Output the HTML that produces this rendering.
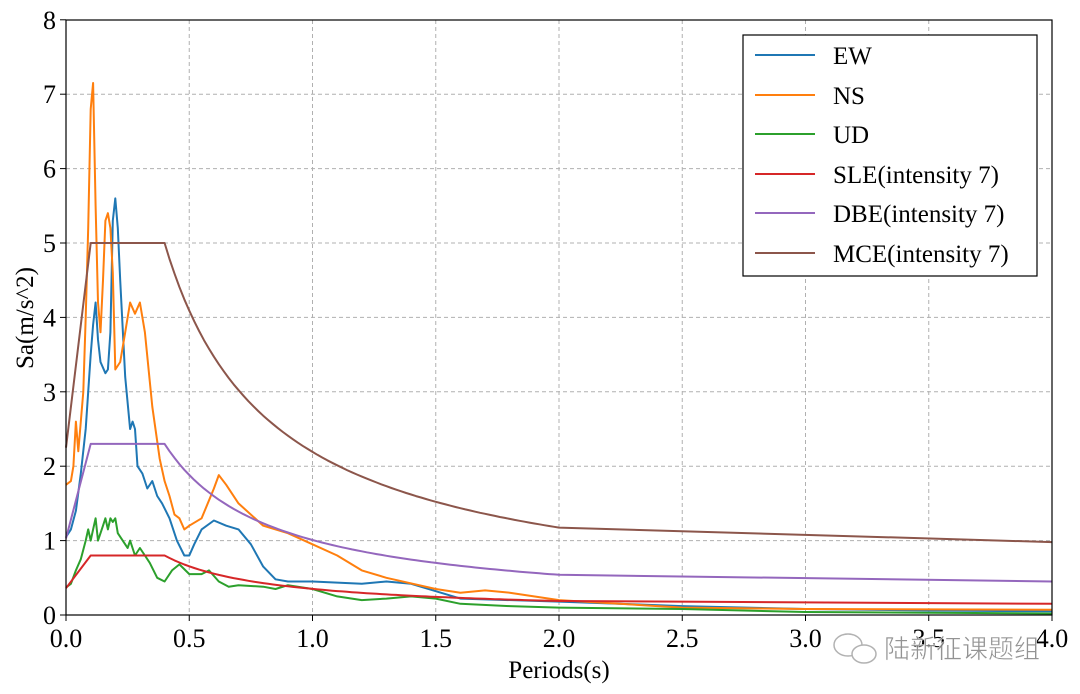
<!DOCTYPE html>
<html><head><meta charset="utf-8"><style>
html,body{margin:0;padding:0;background:#fff;}
svg{display:block;font-family:"Liberation Serif",serif;}
</style></head><body>
<svg id="s" width="1080" height="694" viewBox="0 0 1080 694" xmlns="http://www.w3.org/2000/svg">
<rect width="1080" height="694" fill="#fff"/>
<g id="grid" stroke="#b0b0b0" stroke-width="1" stroke-dasharray="4,3"></g>
<g id="series" fill="none" stroke-width="2" stroke-linejoin="round"></g>
<rect x="66" y="20" width="986" height="595" fill="none" stroke="#000" stroke-width="1.2"/>
<g id="ticks" font-size="26" fill="#000"></g>
<text x="559" y="678" font-size="25" text-anchor="middle">Periods(s)</text>
<text transform="translate(33,318) rotate(-90)" font-size="25" text-anchor="middle">Sa(m/s^2)</text>
<g>
<rect x="743" y="35" width="294" height="241" fill="#fff" stroke="#000" stroke-width="1.2"/>
<g stroke-width="2">
<line x1="755" y1="55" x2="815" y2="55" stroke="#1f77b4"/>
<line x1="755" y1="95" x2="815" y2="95" stroke="#ff7f0e"/>
<line x1="755" y1="134" x2="815" y2="134" stroke="#2ca02c"/>
<line x1="755" y1="174" x2="815" y2="174" stroke="#d62728"/>
<line x1="755" y1="213" x2="815" y2="213" stroke="#9467bd"/>
<line x1="755" y1="253" x2="815" y2="253" stroke="#8c564b"/>
</g>
<g font-size="25">
<text x="833" y="64">EW</text>
<text x="833" y="104">NS</text>
<text x="833" y="143">UD</text>
<text x="833" y="183">SLE(intensity 7)</text>
<text x="833" y="222">DBE(intensity 7)</text>
<text x="833" y="262">MCE(intensity 7)</text>
</g>
</g>
<g opacity="0.9">
<ellipse cx="848" cy="645" rx="14" ry="11" fill="#fff" stroke="#aaa" stroke-width="1.5"/>
<ellipse cx="864" cy="654" rx="12" ry="9" fill="#fff" stroke="#aaa" stroke-width="1.5"/>
<text x="884" y="658" font-size="26" fill="#888" stroke="#fff" stroke-width="0.5" font-family="'Noto Sans CJK SC',sans-serif">陆新征课题组</text>
</g>
</svg>
<script>
var X=t=>66+246.5*t, Y=v=>615-74.4*v;
var ns="http://www.w3.org/2000/svg";
var g=document.getElementById('grid'), tk=document.getElementById('ticks'), se=document.getElementById('series');
function el(p,tag,a,txt){var e=document.createElementNS(ns,tag);for(var k in a)e.setAttribute(k,a[k]);if(txt)e.textContent=txt;p.appendChild(e);return e;}
for(var i=0;i<=8;i++){var t=i*0.5,x=X(t);if(i>0&&i<8)el(g,'line',{x1:x,y1:20,x2:x,y2:615});
el(tk,'line',{x1:x,y1:615,x2:x,y2:621,stroke:'#000'});el(tk,'text',{x:x,y:647,'text-anchor':'middle'},t.toFixed(1));}
for(var v=0;v<=8;v++){var y=Y(v);if(v>0&&v<8)el(g,'line',{x1:66,y1:y,x2:1052,y2:y});
el(tk,'line',{x1:60,y1:y,x2:66,y2:y,stroke:'#000'});el(tk,'text',{x:56,y:y+9,'text-anchor':'end'},String(v));}
function pl(pts,c){el(se,'polyline',{points:pts.map(p=>X(p[0]).toFixed(1)+','+Y(p[1]).toFixed(1)).join(' '),stroke:c});}
function code(a0,amax,end){var p=[[0,a0],[0.1,amax],[0.4,amax]];
for(var t=0.42;t<=2.0001;t+=0.02)p.push([t,amax*Math.pow(0.4/t,0.9)]);p.push([4,end]);return p;}
var EW=[[0,1.05],[0.02,1.15],[0.04,1.4],[0.06,1.9],[0.08,2.5],[0.09,3.0],[0.1,3.5],[0.11,3.9],[0.12,4.2],[0.13,3.7],[0.14,3.4],[0.16,3.25],[0.17,3.3],[0.18,3.8],[0.19,5.3],[0.2,5.6],[0.21,5.2],[0.22,4.5],[0.24,3.2],[0.26,2.5],[0.27,2.6],[0.28,2.5],[0.29,2.0],[0.31,1.9],[0.33,1.7],[0.35,1.8],[0.37,1.6],[0.39,1.5],[0.42,1.3],[0.45,1.0],[0.48,0.8],[0.5,0.8],[0.52,0.95],[0.55,1.15],[0.6,1.27],[0.65,1.2],[0.7,1.15],[0.75,0.95],[0.8,0.65],[0.85,0.48],[0.9,0.45],[1.0,0.45],[1.2,0.42],[1.3,0.45],[1.4,0.42],[1.5,0.32],[1.6,0.22],[2.0,0.18],[2.5,0.12],[3.0,0.08],[3.5,0.06],[4.0,0.05]];
var NS=[[0,1.75],[0.02,1.8],[0.03,2.0],[0.04,2.6],[0.05,2.2],[0.06,2.6],[0.07,3.0],[0.08,4.0],[0.09,5.2],[0.1,6.8],[0.11,7.15],[0.12,5.5],[0.13,4.2],[0.14,3.8],[0.15,4.5],[0.16,5.3],[0.17,5.4],[0.18,5.2],[0.19,4.6],[0.2,3.3],[0.22,3.4],[0.24,3.8],[0.26,4.2],[0.28,4.05],[0.3,4.2],[0.32,3.8],[0.35,2.8],[0.38,2.1],[0.4,1.8],[0.42,1.6],[0.44,1.35],[0.46,1.3],[0.48,1.15],[0.5,1.2],[0.55,1.3],[0.6,1.7],[0.62,1.88],[0.65,1.75],[0.7,1.5],[0.8,1.2],[0.9,1.1],[1.0,0.95],[1.1,0.8],[1.2,0.6],[1.3,0.5],[1.5,0.35],[1.6,0.3],[1.7,0.33],[1.8,0.3],[2.0,0.2],[2.5,0.1],[3.0,0.08],[4.0,0.07]];
var UD=[[0,0.37],[0.02,0.42],[0.04,0.6],[0.06,0.75],[0.08,1.0],[0.09,1.15],[0.1,1.0],[0.11,1.15],[0.12,1.3],[0.13,1.0],[0.14,1.1],[0.15,1.2],[0.16,1.3],[0.17,1.15],[0.18,1.3],[0.19,1.25],[0.2,1.3],[0.21,1.1],[0.23,1.0],[0.25,0.9],[0.26,1.0],[0.28,0.8],[0.3,0.9],[0.32,0.8],[0.34,0.7],[0.37,0.5],[0.4,0.45],[0.43,0.6],[0.46,0.68],[0.5,0.55],[0.55,0.55],[0.58,0.6],[0.62,0.45],[0.66,0.38],[0.7,0.4],[0.8,0.38],[0.85,0.35],[0.9,0.4],[1.0,0.35],[1.1,0.25],[1.2,0.2],[1.3,0.22],[1.4,0.25],[1.5,0.22],[1.6,0.15],[1.8,0.12],[2.0,0.1],[2.5,0.08],[3.0,0.04],[4.0,0.02]];
pl(EW,'#1f77b4');pl(NS,'#ff7f0e');pl(UD,'#2ca02c');
pl(code(0.36,0.8,0.15),'#d62728');pl(code(1.03,2.3,0.45),'#9467bd');pl(code(2.25,5,0.98),'#8c564b');
</script>
</body></html>
